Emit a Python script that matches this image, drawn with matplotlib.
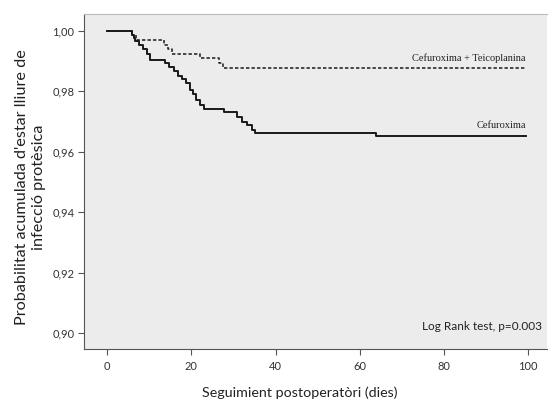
import matplotlib
matplotlib.use("Agg")
import matplotlib.pyplot as plt

# Kaplan-Meier curves (time in days, cumulative survival)
cef_t = [0, 5.9, 6.3, 6.7, 7.5, 8.6, 9.5, 10.2, 13.8, 14.8, 15.8, 16.8, 17.8, 18.8, 19.8, 20.4, 21.0,
         22.1, 22.9, 27.7, 30.9, 32.1, 33.3, 34.5, 35.2, 63.8, 99.5]
cef_s = [1.0, 0.9987, 0.9976, 0.9965, 0.9954, 0.9940, 0.9925, 0.9905, 0.9893, 0.9880, 0.9866, 0.9852,
         0.9840, 0.9829, 0.9805, 0.9790, 0.9772, 0.9755, 0.9741, 0.9730, 0.9716, 0.9700, 0.9689,
         0.9672, 0.9662, 0.9653, 0.9653]

tei_t = [0, 5.9, 6.8, 13.5, 14.5, 15.5, 22.0, 26.5, 27.5, 99.5]
tei_s = [1.0, 0.9985, 0.9970, 0.9955, 0.9940, 0.9924, 0.9910, 0.9895, 0.9876, 0.9876]

x_ticks = [0, 20, 40, 60, 80, 100]
y_ticks = [0.90, 0.92, 0.94, 0.96, 0.98, 1.00]
y_tick_labels = ["0,90", "0,92", "0,94", "0,96", "0,98", "1,00"]

fig = plt.figure(figsize=(5.49, 4.01), dpi=100)
ax = fig.add_axes([84/549, 1-349/401, 463/549, 335/401])
ax.set_facecolor("#ececec")

ax.step(cef_t, cef_s, where="post", color="#1a1a1a", lw=1.4)
ax.step(tei_t, tei_s, where="post", color="#1a1a1a", lw=1.1, linestyle=(0, (2.2, 1.4)))

ax.set_xlim(-5.5, 104.5)
ax.set_ylim(0.8947, 1.0056)
ax.set_xticks(x_ticks)
ax.set_xticklabels([str(v) for v in x_ticks], fontsize=8, family="Lato", color="#333333")
ax.set_yticks(y_ticks)
ax.set_yticklabels(y_tick_labels, fontsize=8, family="Lato", color="#333333")
ax.tick_params(direction="out", length=4, width=0.8, color="#555555")
ax.tick_params(axis="x", pad=5)
ax.tick_params(axis="y", pad=3)

ax.spines["right"].set_visible(False)
ax.spines["top"].set_color("#bbbbbb")
ax.spines["left"].set_color("#555555")
ax.spines["bottom"].set_color("#555555")

ax.text(99.5, 0.9893, "Cefuroxima + Teicoplanina", ha="right", va="bottom",
        family="Liberation Serif", fontsize=7.5, color="#222222")
ax.text(99.5, 0.9672, "Cefuroxima", ha="right", va="bottom",
        family="Liberation Serif", fontsize=7.5, color="#222222")
ax.text(103.3, 0.9023, "Log Rank test, p=0.003", ha="right", va="center",
        family="Lato", fontsize=8.5, color="#222222")

ax.set_xlabel("Seguimient postoperatòri (dies)", family="Lato", fontsize=10.3, color="#222222")
ax.xaxis.set_label_coords((300-84)/463, -(393-349)/335)
ax.xaxis.label.set_va("center")
ax.set_ylabel("Probabilitat acumulada d'estar lliure de\ninfecció protèsica", family="Lato",
              fontsize=11.7, color="#222222", linespacing=1.35)
ax.yaxis.set_label_coords(-(84-30.5)/463, (349-187)/335)
ax.yaxis.label.set_va("center")

fig.savefig("out.png", dpi=100, facecolor="white")
